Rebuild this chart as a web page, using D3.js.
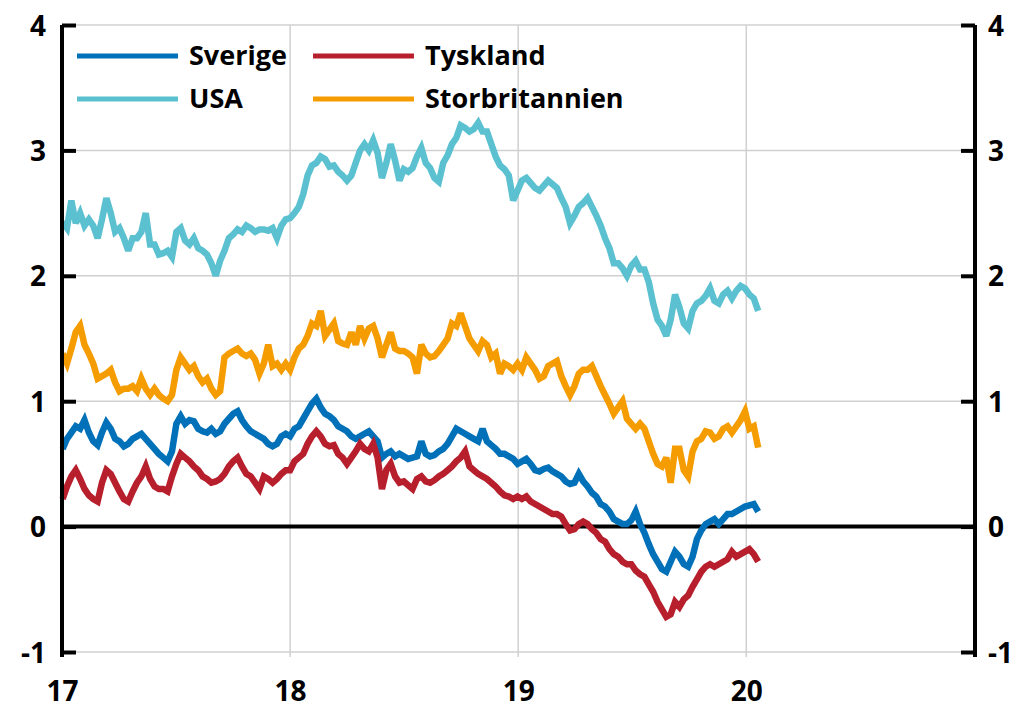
<!DOCTYPE html>
<html>
<head>
<meta charset="utf-8">
<script src="https://cdnjs.cloudflare.com/ajax/libs/d3/7.8.5/d3.min.js"></script>
<style>
  body { margin: 0; background: #fff; }
  .tick-text { font-family: "Open Sans", Lato, sans-serif; font-weight: bold; font-size: 28px; fill: #000; }
  .legend-text { font-family: "Open Sans", Lato, sans-serif; font-weight: bold; font-size: 27px; fill: #000; }
</style>
</head>
<body>
<svg id="chart" width="1022" height="709"></svg>
<script>
// weekly observations, first week starting 2017-01-02
var startDate = new Date(2017, 0, 2);

var sverige = [
  0.62,0.7,0.75,0.8,0.78,0.85,0.75,0.68,0.65,0.75,
  0.83,0.78,0.7,0.68,0.64,0.66,0.7,0.72,0.74,0.7,
  0.66,0.62,0.58,0.55,0.52,0.6,0.82,0.88,0.82,0.85,
  0.84,0.78,0.76,0.75,0.78,0.74,0.76,0.82,0.86,0.9,
  0.92,0.85,0.8,0.76,0.74,0.72,0.7,0.66,0.64,0.66,
  0.72,0.74,
  0.72,0.78,0.8,0.86,0.92,0.98,1.02,0.95,0.9,0.88,
  0.85,0.8,0.78,0.76,0.72,0.7,0.72,0.74,0.76,0.72,
  0.68,0.55,0.58,0.6,0.56,0.58,0.56,0.54,0.55,0.56,
  0.68,0.58,0.56,0.57,0.6,0.62,0.66,0.72,0.78,0.76,
  0.74,0.72,0.7,0.68,0.78,0.68,0.65,0.62,0.58,0.58,
  0.56,0.54,
  0.5,0.52,0.54,0.5,0.45,0.44,0.46,0.47,0.44,0.42,
  0.4,0.36,0.34,0.35,0.42,0.36,0.32,0.27,0.24,0.18,
  0.16,0.12,0.06,0.04,0.02,0.02,0.05,0.12,0.02,-0.05,
  -0.14,-0.22,-0.28,-0.34,-0.36,-0.28,-0.2,-0.24,-0.3,-0.32,
  -0.24,-0.1,-0.03,0.02,0.04,0.06,0.02,0.06,0.1,0.1,
  0.12,0.14,
  0.16,0.17,0.18,0.12
];

var tyskland = [
  0.22,0.32,0.4,0.45,0.38,0.3,0.25,0.22,0.2,0.35,
  0.45,0.42,0.35,0.28,0.22,0.2,0.28,0.35,0.4,0.48,
  0.38,0.32,0.3,0.3,0.28,0.4,0.5,0.58,0.55,0.52,
  0.48,0.45,0.4,0.38,0.35,0.36,0.38,0.42,0.48,0.52,
  0.55,0.48,0.42,0.4,0.35,0.3,0.4,0.38,0.35,0.38,
  0.42,0.45,
  0.45,0.52,0.55,0.58,0.66,0.72,0.76,0.72,0.66,0.64,
  0.65,0.58,0.55,0.5,0.55,0.6,0.66,0.62,0.6,0.66,
  0.55,0.3,0.45,0.5,0.4,0.35,0.36,0.33,0.3,0.38,
  0.4,0.36,0.35,0.37,0.4,0.42,0.45,0.48,0.52,0.55,
  0.6,0.48,0.45,0.42,0.4,0.38,0.35,0.32,0.28,0.25,
  0.24,0.22,
  0.24,0.22,0.24,0.2,0.18,0.16,0.14,0.12,0.1,0.1,
  0.08,0.02,-0.03,-0.02,0.02,0.04,0.02,-0.02,-0.05,-0.1,
  -0.12,-0.18,-0.22,-0.24,-0.28,-0.3,-0.3,-0.35,-0.38,-0.4,
  -0.46,-0.52,-0.6,-0.66,-0.72,-0.7,-0.6,-0.64,-0.58,-0.55,
  -0.48,-0.42,-0.36,-0.32,-0.3,-0.32,-0.3,-0.28,-0.26,-0.2,
  -0.24,-0.22,
  -0.2,-0.18,-0.22,-0.28
];

var usa = [
  2.43,2.38,2.6,2.42,2.5,2.4,2.45,2.4,2.3,2.45,
  2.62,2.5,2.35,2.38,2.3,2.2,2.3,2.3,2.35,2.5,
  2.25,2.25,2.17,2.18,2.2,2.15,2.35,2.38,2.28,2.25,
  2.3,2.22,2.2,2.17,2.1,2.0,2.12,2.2,2.3,2.33,
  2.37,2.35,2.4,2.38,2.35,2.37,2.37,2.36,2.38,2.3,
  2.4,2.45,
  2.46,2.5,2.55,2.65,2.8,2.88,2.9,2.95,2.93,2.87,
  2.88,2.83,2.8,2.76,2.8,2.9,3.0,3.05,3.0,3.08,
  2.98,2.78,2.9,3.05,2.92,2.76,2.85,2.83,2.86,2.95,
  3.02,2.9,2.86,2.78,2.75,2.9,2.96,3.05,3.1,3.2,
  3.18,3.15,3.17,3.22,3.15,3.15,3.05,2.95,2.88,2.85,
  2.8,2.6,
  2.68,2.76,2.78,2.74,2.7,2.68,2.72,2.76,2.73,2.7,
  2.62,2.55,2.42,2.48,2.55,2.58,2.62,2.55,2.48,2.4,
  2.3,2.22,2.1,2.1,2.06,2.0,2.08,2.12,2.05,2.05,
  1.95,1.78,1.65,1.6,1.52,1.65,1.85,1.75,1.62,1.58,
  1.72,1.78,1.8,1.84,1.9,1.8,1.78,1.85,1.88,1.82,
  1.88,1.92,
  1.9,1.85,1.82,1.72
];

var storbritannien = [
  1.38,1.3,1.42,1.55,1.6,1.45,1.38,1.3,1.18,1.2,
  1.22,1.25,1.15,1.08,1.1,1.1,1.12,1.08,1.18,1.1,
  1.05,1.1,1.05,1.02,1.0,1.05,1.25,1.35,1.3,1.25,
  1.28,1.2,1.15,1.18,1.1,1.05,1.08,1.35,1.38,1.4,
  1.42,1.38,1.36,1.38,1.33,1.22,1.3,1.45,1.28,1.3,
  1.25,1.3,
  1.25,1.35,1.42,1.45,1.52,1.62,1.6,1.72,1.52,1.57,
  1.62,1.48,1.46,1.45,1.55,1.45,1.6,1.5,1.58,1.6,
  1.5,1.35,1.45,1.55,1.42,1.4,1.4,1.38,1.35,1.22,
  1.45,1.38,1.35,1.36,1.4,1.45,1.5,1.62,1.6,1.7,
  1.6,1.5,1.45,1.4,1.48,1.45,1.35,1.38,1.22,1.3,
  1.28,1.25,
  1.3,1.25,1.35,1.3,1.25,1.18,1.2,1.28,1.3,1.32,
  1.2,1.12,1.05,1.12,1.22,1.25,1.25,1.28,1.2,1.12,
  1.05,0.98,0.9,0.95,1.0,0.86,0.82,0.78,0.82,0.78,
  0.68,0.58,0.5,0.48,0.55,0.35,0.62,0.62,0.45,0.4,
  0.6,0.68,0.7,0.76,0.75,0.7,0.72,0.78,0.8,0.75,
  0.8,0.85,
  0.92,0.78,0.8,0.63
];

var yTicks = [-1, 0, 1, 2, 3, 4];
var xTickYears = [2017, 2018, 2019, 2020];

var series = [
  { name: 'Sverige', values: sverige, color: '#0070b8' },
  { name: 'Tyskland', values: tyskland, color: '#b81f2d' },
  { name: 'USA', values: usa, color: '#5bc1d0' },
  { name: 'Storbritannien', values: storbritannien, color: '#f59c00' }
];

var plotLeft = 62, plotRight = 975, plotTop = 25, plotBottom = 652;

var svg = d3.select('#chart');

var x = d3.scaleTime()
  .domain([new Date(2017, 0, 1), new Date(2021, 0, 1)])
  .range([plotLeft, plotRight]);

var y = d3.scaleLinear()
  .domain([-1, 4])
  .range([plotBottom, plotTop]);

function weekDate(i) {
  return d3.timeDay.offset(startDate, i * 7);
}

// plain hyphen for negatives, as in the original
function fmt(d) { return String(d); }

//grid
var grid = svg.append('g');
grid.selectAll('line.h')
  .data(yTicks.filter(function(d) { return d !== 0; }))
  .enter().append('line')
  .attr('x1', plotLeft).attr('x2', plotRight)
  .attr('y1', function(d) { return y(d); })
  .attr('y2', function(d) { return y(d); })
  .attr('stroke', '#d0d0d0')
  .attr('stroke-width', 1.5);

grid.selectAll('line.v')
  .data(xTickYears.slice(1))
  .enter().append('line')
  .attr('x1', function(d) { return x(new Date(d, 0, 1)); })
  .attr('x2', function(d) { return x(new Date(d, 0, 1)); })
  .attr('y1', plotTop)
  .attr('y2', plotBottom + 5)
  .attr('stroke', '#d0d0d0')
  .attr('stroke-width', 1.5);

//zero line
svg.append('line')
  .attr('x1', plotLeft).attr('x2', plotRight)
  .attr('y1', y(0)).attr('y2', y(0))
  .attr('stroke', '#000')
  .attr('stroke-width', 4);

//series
var line = d3.line()
  .x(function(d, i) { return x(weekDate(i)); })
  .y(function(d) { return y(d); });

svg.append('g')
  .selectAll('path')
  .data(series)
  .enter().append('path')
  .attr('d', function(s) { return line(s.values); })
  .attr('fill', 'none')
  .attr('stroke', function(s) { return s.color; })
  .attr('stroke-width', 6.5)
  .attr('stroke-linejoin', 'miter')
  .attr('stroke-miterlimit', 3);

//left axis
var leftAxis = d3.axisLeft(y)
  .tickValues(yTicks)
  .tickSize(-14)
  .tickFormat(fmt);

svg.append('g')
  .attr('transform', 'translate(' + plotLeft + ',0)')
  .call(leftAxis)
  .call(function(g) {
    g.select('.domain').attr('d', 'M0,' + plotTop + 'V' + (plotBottom + 5)).attr('stroke-width', 4);
    g.selectAll('.tick line').attr('stroke-width', 4);
    g.selectAll('.tick text').attr('class', 'tick-text').attr('dy', '0.36em').attr('x', -16);
  });

//right axis
var rightAxis = d3.axisRight(y)
  .tickValues(yTicks)
  .tickSize(-14)
  .tickFormat(fmt);

svg.append('g')
  .attr('transform', 'translate(' + plotRight + ',0)')
  .call(rightAxis)
  .call(function(g) {
    g.select('.domain').attr('d', 'M0,' + plotTop + 'V' + (plotBottom + 5)).attr('stroke-width', 4);
    g.selectAll('.tick line').attr('stroke-width', 4);
    g.selectAll('.tick text').attr('class', 'tick-text').attr('dy', '0.36em').attr('x', 13);
  });

//x labels
var xAxis = d3.axisBottom(x)
  .tickValues(xTickYears.map(function(d) { return new Date(d, 0, 1); }))
  .tickSize(0)
  .tickFormat(d3.timeFormat('%y'));

svg.append('g')
  .attr('transform', 'translate(0,' + (plotBottom + 49) + ')')
  .call(xAxis)
  .call(function(g) {
    g.select('.domain').remove();
    g.selectAll('.tick text').attr('class', 'tick-text').attr('y', 0).attr('dy', 0);
  });

//legend
var legendPos = [[77, 56], [313, 56], [77, 99], [313, 99]];
var legend = svg.append('g')
  .selectAll('g')
  .data(series)
  .enter().append('g')
  .attr('transform', function(s, i) { return 'translate(' + legendPos[i][0] + ',' + legendPos[i][1] + ')'; });

legend.append('line')
  .attr('x1', 0).attr('x2', 101)
  .attr('y1', 0).attr('y2', 0)
  .attr('stroke', function(s) { return s.color; })
  .attr('stroke-width', 5);

legend.append('text')
  .attr('class', 'legend-text')
  .attr('x', 112)
  .attr('y', 0)
  .attr('dy', '0.35em')
  .text(function(s) { return s.name; });
</script>
</body>
</html>
